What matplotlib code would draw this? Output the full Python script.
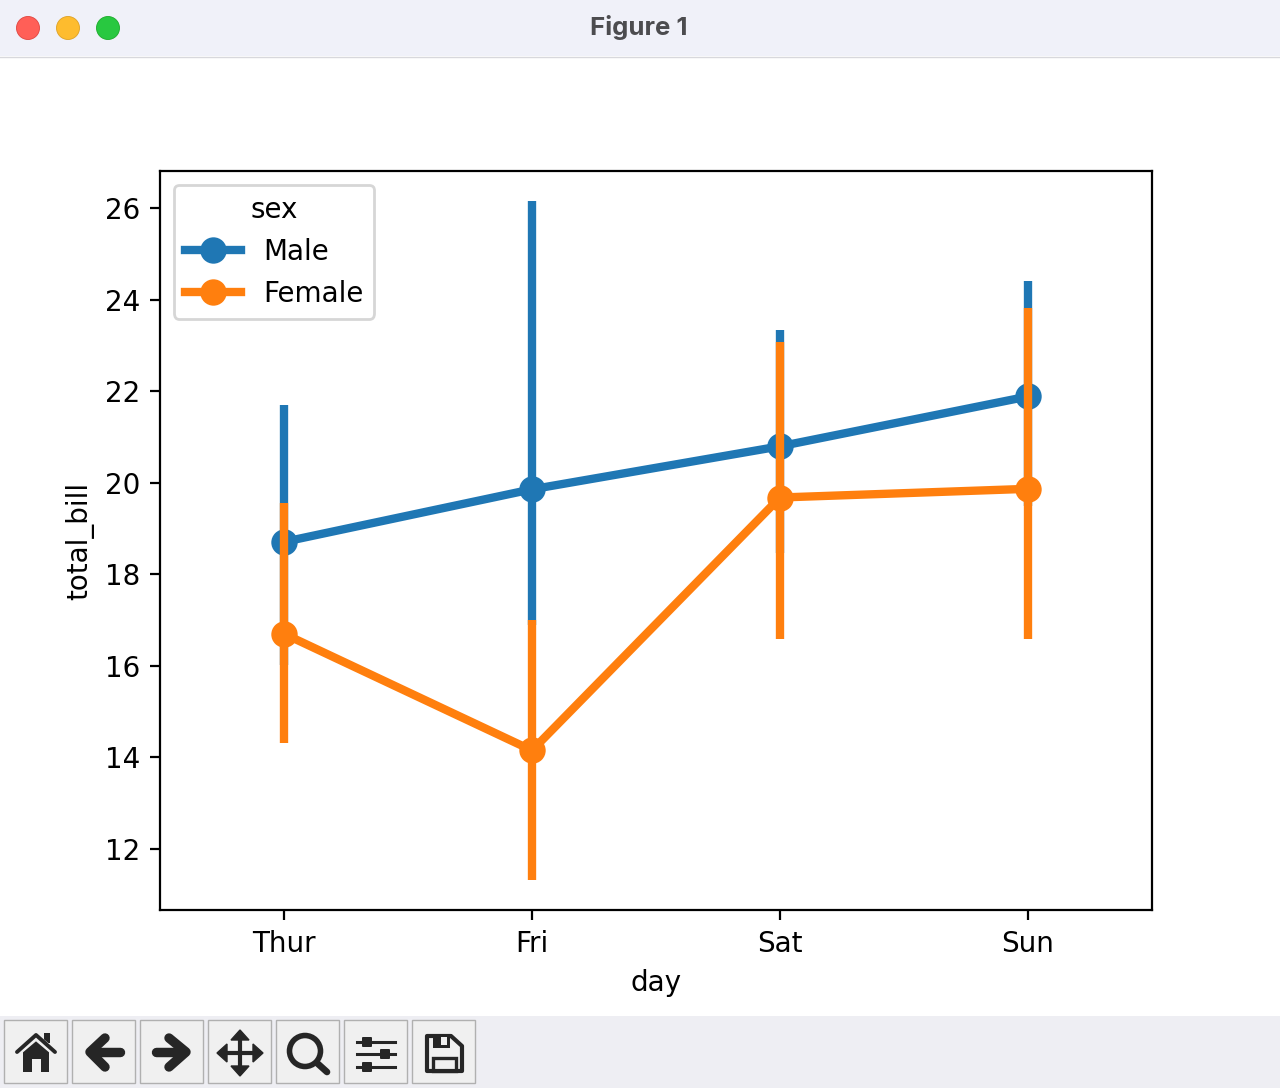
import matplotlib
matplotlib.use("Agg")
import matplotlib.pyplot as plt
from matplotlib.patches import Circle, Rectangle, Polygon, FancyBboxPatch

days = ["Thur", "Fri", "Sat", "Sun"]
male_mean = [18.71, 19.86, 20.80, 21.89]
male_low = [16.02, 16.9, 18.47, 19.5]
male_high = [21.71, 26.17, 23.35, 24.42]
female_mean = [16.70, 14.15, 19.68, 19.87]
female_low = [14.32, 11.32, 16.59, 16.59]
female_high = [19.57, 17.00, 23.07, 23.83]
yticks = [12, 14, 16, 18, 20, 22, 24, 26]

W, H = 1280, 1088
dpi = 200
fig = plt.figure(figsize=(W / dpi, H / dpi), dpi=dpi, facecolor="white")


def draw_window():
    # window chrome, in screenshot pixels
    bg = fig.add_axes([0, 0, 1, 1], zorder=-1)
    bg.set_xlim(0, W)
    bg.set_ylim(H, 0)
    bg.set_axis_off()

    bg.add_patch(Rectangle((0, 0), W, 56, fc="#f0f1f9", ec="none"))
    bg.plot([0, W], [56.5, 56.5], color="#d8d8dc", lw=0.5)
    for x, fc, ec in [(28, "#ff5f57", "#e0443e"), (68, "#febc2e", "#dea123"), (108, "#28c840", "#1aab29")]:
        bg.add_patch(Circle((x, 28), 11.5, fc=fc, ec=ec, lw=0.3))
    bg.text(639, 28, "Figure 1", ha="center", va="center", fontsize=9.3,
            fontweight="bold", family="Inter", color="#4c4c4f")

    bg.add_patch(Rectangle((0, 1016), W, 72, fc="#eeeef3", ec="none"))
    for x in [4, 72, 140, 208, 276, 344, 412]:
        bg.add_patch(Rectangle((x - 0.5, 1019.5), 63.5, 63.5, fc="#f0f0f0", ec="#b0b0b0", lw=0.5))

    dark = "#262626"
    # home
    bg.add_patch(Polygon([(23, 1050), (36, 1040), (49, 1050), (49, 1072), (41, 1072), (41, 1059),
                          (32, 1059), (32, 1072), (23, 1072)], fc=dark, ec="none"))
    bg.add_patch(Rectangle((44, 1033), 6, 10, fc=dark, ec="none"))
    bg.plot([17, 36, 55], [1053, 1037, 1053], color="#f0f0f0", lw=2.4, solid_capstyle="butt")
    bg.plot([17, 36, 55], [1052, 1035, 1052], color=dark, lw=1.4, solid_capstyle="round")
    # back, forward
    bg.plot([105, 90, 105], [1038, 1052, 1067], color=dark, lw=3.4, solid_capstyle="round", solid_joinstyle="round")
    bg.plot([92, 120], [1052, 1052], color=dark, lw=3.4, solid_capstyle="round")
    bg.plot([169, 186, 169], [1038, 1052, 1067], color=dark, lw=3.4, solid_capstyle="round", solid_joinstyle="round")
    bg.plot([156, 184], [1052, 1052], color=dark, lw=3.4, solid_capstyle="round")
    # pan
    bg.plot([240, 240], [1035, 1071], color=dark, lw=1.5)
    bg.plot([222, 258], [1053, 1053], color=dark, lw=1.5)
    for pts in [[(240, 1030), (231, 1040), (249, 1040)], [(240, 1076), (231, 1066), (249, 1066)],
                [(217, 1053), (227, 1044), (227, 1062)], [(263, 1053), (253, 1044), (253, 1062)]]:
        bg.add_patch(Polygon(pts, fc=dark, ec=dark, lw=0.5))
    # zoom
    bg.add_patch(Circle((305, 1051), 15.5, fc="none", ec=dark, lw=2))
    bg.plot([317, 327], [1063, 1072], color=dark, lw=2.4, solid_capstyle="round")
    # subplots
    for y, xk in [(1042, 367), (1054, 385), (1067, 367)]:
        bg.plot([357, 395], [y, y], color=dark, lw=1.1)
        bg.add_patch(FancyBboxPatch((xk - 4, y - 4), 8, 8, boxstyle="round,pad=1", fc=dark, ec="none"))
    # save
    bg.add_patch(Polygon([(427, 1036), (451, 1036), (462, 1046), (462, 1071), (427, 1071)],
                         fc="none", ec=dark, lw=1.5, joinstyle="round"))
    bg.add_patch(Rectangle((433, 1036), 17, 12, fc=dark, ec="none"))
    bg.add_patch(Rectangle((441, 1037), 6, 8, fc="#f0f0f0", ec="none"))
    bg.add_patch(Rectangle((433, 1058), 23, 13, fc="none", ec=dark, lw=1.2))


def draw_series(ax, mean, low, high, color, label):
    x = range(len(days))
    ax.plot(x, mean, color=color, lw=3, marker="o", ms=8.5, label=label)
    for i in x:
        ax.plot([i, i], [low[i], high[i]], color=color, lw=3, solid_capstyle="butt")


draw_window()

ax = fig.add_axes([160 / W, 1 - 910 / H, 992 / W, 739 / H])
draw_series(ax, male_mean, male_low, male_high, "#1f77b4", "Male")
draw_series(ax, female_mean, female_low, female_high, "#ff7f0e", "Female")

ax.set_xlim(-0.5, 3.5)
ax.set_ylim(10.66, 26.82)
ax.set_xticks(range(len(days)))
ax.set_xticklabels(days)
ax.tick_params(axis="x", pad=3.8)
ax.set_yticks(yticks)
ax.set_xlabel("day")
ax.set_ylabel("total_bill")
ax.legend(title="sex", loc="upper left")

fig.savefig("out.png", dpi=dpi)
